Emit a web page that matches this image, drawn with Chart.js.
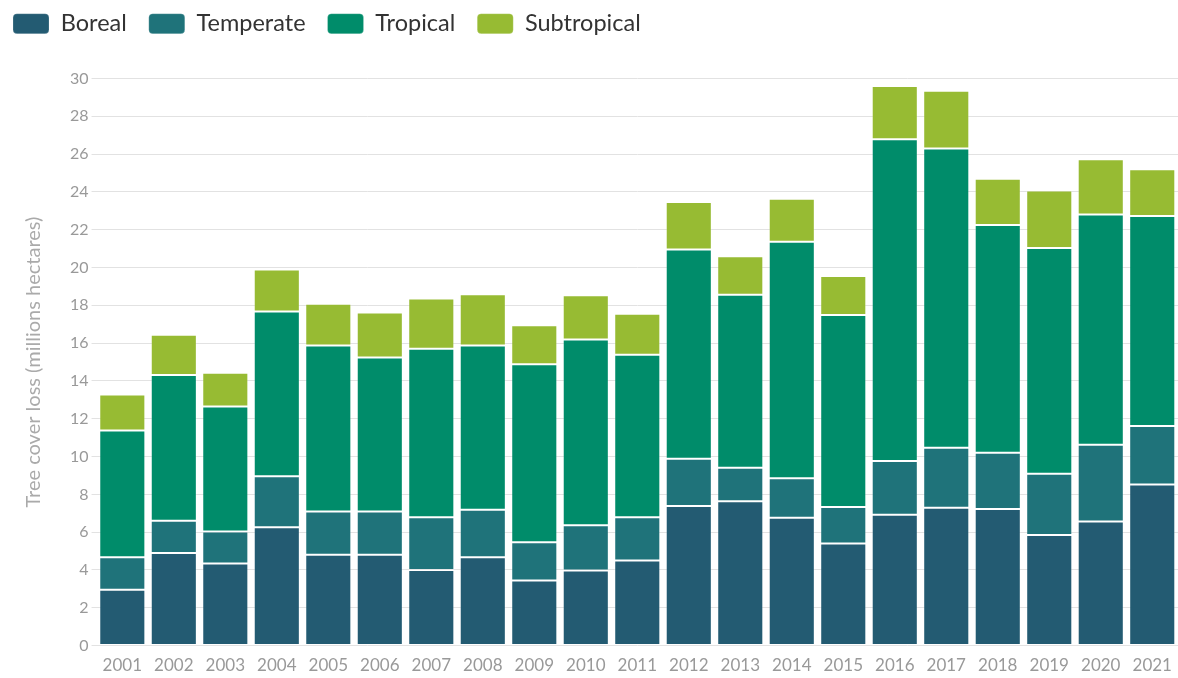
<!DOCTYPE html>
<html>
<head>
<meta charset="utf-8">
<script src="https://cdn.jsdelivr.net/npm/chart.js@4/dist/chart.umd.min.js"></script>
<style>
html,body{margin:0;padding:0;background:#fff;}
#wrap{width:1178px;height:678px;}
</style>
</head>
<body>
<div id="wrap"><canvas id="c" width="1178" height="678"></canvas></div>
<script>
const years = ["2001","2002","2003","2004","2005","2006","2007","2008","2009","2010","2011","2012","2013","2014","2015","2016","2017","2018","2019","2020","2021"];
const boreal      = [2.96,4.90,4.34,6.26,4.81,4.81,4.00,4.67,3.44,3.97,4.50,7.38,7.63,6.76,5.40,6.92,7.29,7.23,5.85,6.56,8.52];
const temperate   = [1.71,1.71,1.69,2.70,2.29,2.29,2.79,2.51,2.03,2.40,2.29,2.51,1.78,2.09,1.93,2.84,3.18,2.97,3.24,4.07,3.10];
const tropical    = [6.71,7.71,6.62,8.71,8.77,8.14,8.92,8.69,9.41,9.82,8.59,11.07,9.15,12.51,10.16,17.02,15.83,12.05,11.94,12.18,11.11];
const subtropical = [1.90,2.12,1.79,2.23,2.21,2.38,2.65,2.72,2.07,2.35,2.17,2.51,2.04,2.28,2.06,2.82,3.05,2.45,3.04,2.92,2.47];
const yTicks = [0,2,4,6,8,10,12,14,16,18,20,22,24,26,28,30];

const FONT = "Lato, 'Open Sans', sans-serif";
const colors = {Boreal:"#235b72", Temperate:"#1f737a", Tropical:"#008c6a", Subtropical:"#97bb33"};
function ds(label, data){
  return {label, data, backgroundColor: colors[label], borderColor: "rgba(255,255,255,0.2)", borderWidth: 1, borderSkipped: false,
          barPercentage: 0.895, categoryPercentage: 1.0};
}
const legendShift = {
  id: 'legendShift',
  afterLayout(chart){
    const lg = chart.legend;
    if (!lg) return;
    lg.top -= 33; lg.bottom -= 33;
    lg.left -= 31; lg.right -= 31;
  }
};
new Chart(document.getElementById('c'), {
  type: 'bar',
  data: {
    labels: years,
    datasets: [ds("Boreal", boreal), ds("Temperate", temperate), ds("Tropical", tropical), ds("Subtropical", subtropical)]
  },
  plugins: [legendShift],
  options: {
    responsive: false,
    animation: false,
    layout: {padding: {left: 22, right: -8, top: 23, bottom: 2}},
    plugins: {
      legend: {
        position: 'top',
        align: 'start',
        labels: {
          boxWidth: 36, boxHeight: 20, useBorderRadius: true, borderRadius: 4,
          font: {family: FONT, size: 23.5},
          color: "#333", padding: 22
        }
      },
      tooltip: {enabled: false}
    },
    scales: {
      x: {
        stacked: true,
        grid: {display: false, drawTicks: true, tickLength: 10},
        border: {display: false},
        ticks: {color: "#999", font: {family: FONT, size: 17}, padding: 0, maxRotation: 0}
      },
      y: {
        stacked: true,
        min: 0, max: 30,
        afterBuildTicks: (axis) => { axis.ticks = yTicks.map(v => ({value: v})); },
        grid: {color: "#e2e2e2", tickLength: 5, lineWidth: 1},
        border: {display: false},
        ticks: {color: "#999", font: {family: FONT, size: 16}, padding: 3},
        title: {display: true, text: "Tree cover loss (millions hectares)", color: "#aaa",
                font: {family: FONT, size: 20}, padding: {top: 0, bottom: 21}}
      }
    }
  }
});
</script>
</body>
</html>
